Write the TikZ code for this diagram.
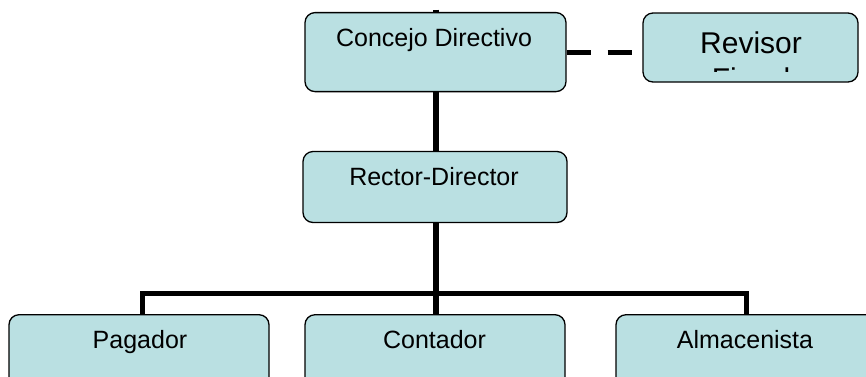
\documentclass[tikz,border=0pt]{standalone}
\usepackage{fontspec}
\setmainfont{Liberation Sans}
\usetikzlibrary{backgrounds}
\definecolor{boxfill}{RGB}{186,224,226}
\tikzset{
  orgbox/.style={draw=black, line width=1.3pt, fill=boxfill, rounded corners=10pt, inner sep=0pt},
  lbl/.style={anchor=base, inner sep=0pt, font=\fontsize{25}{30}\selectfont},
  biglbl/.style={anchor=base, inner sep=0pt, font=\fontsize{30}{36}\selectfont},
  vline/.style={line width=6.5pt, draw=black},
  hline/.style={line width=5pt, draw=black, line join=miter},
  dline/.style={line width=5pt, draw=black, dash pattern=on 24pt off 17pt}
}
\begin{document}
\begin{tikzpicture}[x=1pt, y=-1pt]
\clip (0,0) rectangle (866,376);
\useasboundingbox (0,0) rectangle (866,376);
% boxes
\node[orgbox, minimum width=261pt, minimum height=79pt] (con) at (435.5,52.1) {};
\node[orgbox, minimum width=215pt, minimum height=69pt] (rev) at (750.5,47.5) {};
\node[orgbox, minimum width=264pt, minimum height=71pt] (rec) at (435,187) {};
\node[orgbox, minimum width=260pt, minimum height=72pt] (pag) at (139,350.7) {};
\node[orgbox, minimum width=260pt, minimum height=72pt] (cnt) at (435,350.7) {};
\node[orgbox, minimum width=260pt, minimum height=72pt] (alm) at (746,350.7) {};
% labels
\node[lbl] (tcon) at (434,46.5) {Concejo Directivo};
\node[lbl] (trec) at (434,185) {Rector-Director};
\node[lbl] (tpag) at (140,348) {Pagador};
\node[lbl] (tcnt) at (434.5,348) {Contador};
\node[lbl] (talm) at (745,348) {Almacenista};
\begin{scope}
\clip (643,0) rectangle (858,71.5);
\node[biglbl] (trev1) at (751,53) {Revisor};
\node[biglbl] (trev2) at (751,89.5) {Fiscal};
\end{scope}
% connectors
\coordinate (stub) at (436,9.5);
\coordinate (bus) at (436,293);
\begin{scope}[on background layer]
\draw[vline] (stub) -- (stub |- cnt.north);
\draw[hline] ([xshift=3pt]pag.north) |- (bus) -| (alm.north);
\draw[dline] (con.east) -- (con.east -| rev.west);
\end{scope}
\end{tikzpicture}
\end{document}
